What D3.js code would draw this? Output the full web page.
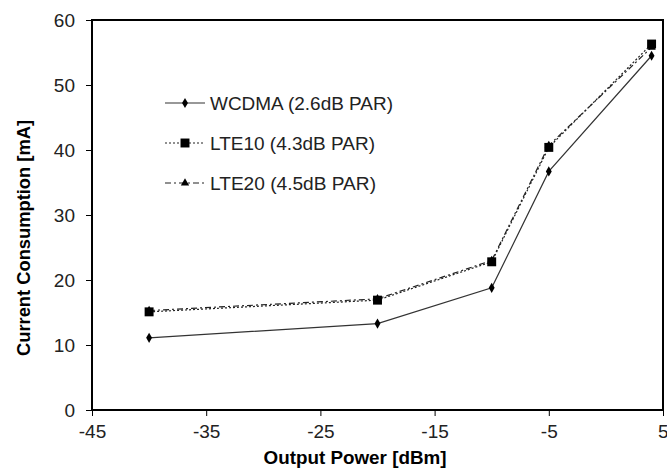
<!DOCTYPE html>
<html>
<head>
<meta charset="utf-8">
<script src="https://cdn.jsdelivr.net/npm/d3@7"></script>
<style>
  body { margin: 0; background: #fff; }
  text { font-family: "Liberation Sans", Arial, sans-serif; }
</style>
</head>
<body>
<svg width="667" height="470"></svg>
<script>
// data
const power = [-40, -20, -10, -5, 4];
const wcdma = [11.1, 13.3, 18.8, 36.7, 54.5];
const lte10 = [15.1, 16.9, 22.8, 40.4, 56.3];
const lte20 = [15.3, 17.1, 23.0, 40.7, 55.8];
const xTicks = [-45, -35, -25, -15, -5, 5];
const yTicks = [0, 10, 20, 30, 40, 50, 60];
const seriesNames = ["WCDMA (2.6dB PAR)", "LTE10 (4.3dB PAR)", "LTE20 (4.5dB PAR)"];

const svg = d3.select("svg");
const m = {left: 92, right: 4, top: 20, bottom: 60};
const W = 667 - m.left - m.right, H = 470 - m.top - m.bottom;
const g = svg.append("g").attr("transform", "translate(" + m.left + "," + m.top + ")");

const x = d3.scaleLinear().domain([-45, 5]).range([0, W]);
const y = d3.scaleLinear().domain([0, 60]).range([H, 0]);

// axes (plain hyphen for negatives, like the original)
const xa = g.append("g").attr("transform", "translate(0," + H + ")")
  .call(d3.axisBottom(x).tickValues(xTicks).tickFormat(d => String(d)).tickSize(6).tickPadding(9));
const ya = g.append("g")
  .call(d3.axisLeft(y).tickValues(yTicks).tickFormat(d => String(d)).tickSize(6).tickPadding(11));
[xa, ya].forEach(a => {
  a.select(".domain").remove();
  a.selectAll("line").attr("stroke", "#000");
  a.selectAll("text").attr("font-size", 19).attr("fill", "#222");
});
// keep the last label inside the page
xa.selectAll("text").filter(d => d === 5).attr("text-anchor", "end").attr("dx", 5);

g.append("rect").attr("width", W).attr("height", H)
  .attr("fill", "none").attr("stroke", "#000").attr("stroke-width", 2);

svg.append("text").attr("x", 355).attr("y", 464)
  .attr("text-anchor", "middle").attr("font-size", 18).attr("font-weight", "bold")
  .attr("textLength", 183).attr("lengthAdjust", "spacingAndGlyphs")
  .text("Output Power [dBm]");
svg.append("text").attr("transform", "translate(30,238) rotate(-90)")
  .attr("text-anchor", "middle").attr("font-size", 18).attr("font-weight", "bold")
  .attr("textLength", 236).attr("lengthAdjust", "spacingAndGlyphs")
  .text("Current Consumption [mA]");

const series = [
  {name: seriesNames[0], vals: wcdma, dash: null, sym: d3.symbolDiamond, size: 30, col: "#333", len: 183},
  {name: seriesNames[1], vals: lte10, dash: "2,2", sym: d3.symbolSquare, size: 80, col: "#222", len: 165},
  {name: seriesNames[2], vals: lte20, dash: "6,3,2,3", sym: d3.symbolTriangle, size: 30, col: "#222", len: 166}
];

const line = d3.line().x(d => x(d[0])).y(d => y(d[1]));

series.slice().reverse().forEach(s => {
  const pts = power.map((p, i) => [p, s.vals[i]]);
  g.append("path").datum(pts).attr("d", line)
    .attr("fill", "none").attr("stroke", s.col).attr("stroke-width", 1.2)
    .attr("stroke-dasharray", s.dash);
  g.selectAll(null).data(pts).enter().append("path")
    .attr("transform", d => "translate(" + x(d[0]) + "," + y(d[1]) + ")")
    .attr("d", d3.symbol().type(s.sym).size(s.size))
    .attr("fill", "#000");
});

// legend
const lg = svg.append("g").attr("transform", "translate(165,103)");
series.forEach((s, i) => {
  const row = lg.append("g").attr("transform", "translate(0," + i * 40 + ")");
  row.append("line").attr("x1", 0).attr("x2", 40)
    .attr("stroke", s.col).attr("stroke-width", 1.2).attr("stroke-dasharray", s.dash);
  row.append("path").attr("transform", "translate(20,0)")
    .attr("d", d3.symbol().type(s.sym).size(s.size)).attr("fill", "#000");
  row.append("text").attr("x", 45).attr("y", 7).attr("font-size", 19).attr("fill", "#222")
    .attr("textLength", s.len).attr("lengthAdjust", "spacingAndGlyphs")
    .text(s.name);
});
</script>
</body>
</html>
